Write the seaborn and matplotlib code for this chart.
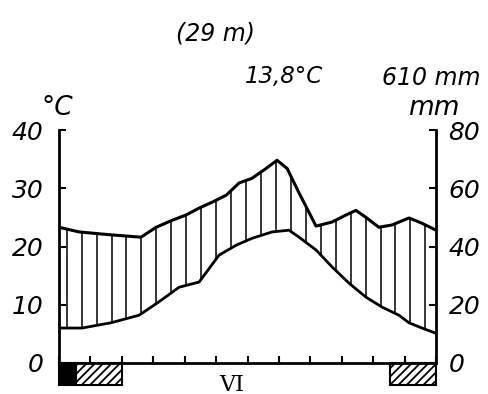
import numpy as np
import matplotlib
matplotlib.use("Agg")
import matplotlib.pyplot as plt
import seaborn as sns
from matplotlib.patches import Rectangle

# monthly curve (x in months from start of year axis)
temp_month = [0, 0.73, 1.65, 2.55, 3.18, 3.82, 4.46, 5.09, 5.63, 6.14, 6.78,
              7.32, 7.64, 8.18, 8.69, 9.23, 9.77, 10.28, 10.82, 11.14, 11.55, 12.0]
temp_c = [6.0, 6.0, 6.9, 8.2, 10.5, 13.0, 13.9, 18.5, 20.2, 21.4, 22.5,
          22.8, 21.6, 19.4, 16.5, 13.7, 11.3, 9.6, 8.2, 6.9, 6.0, 5.1]

precip_month = [0, 0.64, 1.65, 2.61, 3.09, 3.60, 4.04, 4.46, 4.87, 5.32, 5.73,
                6.14, 6.59, 6.94, 7.26, 7.64, 8.18, 8.69, 9.13, 9.45, 9.77,
                10.18, 10.60, 11.14, 11.55, 12.0]
precip_mm = [46.6, 45.0, 44.0, 43.2, 46.6, 49.0, 50.8, 53.2, 55.2, 57.6, 61.8,
             63.4, 66.8, 69.6, 66.8, 58.4, 47.0, 48.4, 50.8, 52.4, 50.0,
             46.6, 47.4, 49.8, 48.0, 45.6]

frost_black = [(0.0, 0.55)]
frost_hatched = [(0.55, 2.0), (10.55, 12.0)]

station_alt = "(29 m)"
mean_temp = "13,8°C"
annual_precip = "610 mm"

sns.set_style("white")
plt.rcParams["font.family"] = ["DejaVu Sans"]
plt.rcParams["font.style"] = "italic"
plt.rcParams["hatch.linewidth"] = 1.3
plt.rcParams["text.color"] = "black"
plt.rcParams["xtick.color"] = "black"
plt.rcParams["ytick.color"] = "black"
plt.rcParams["axes.labelcolor"] = "black"

fig = plt.figure(figsize=(4.89, 3.94), dpi=100)
ax = fig.add_axes([0.1207, 0.0122, 0.771, 0.6652])
ax.set_xlim(0, 12)
ax.set_ylim(-4.5, 40.5)

precip_half = np.array(precip_mm) / 2  # 20 mm = 10 °C scale
sns.lineplot(x=temp_month, y=temp_c, ax=ax, color="black", lw=2,
             estimator=None, sort=False)
sns.lineplot(x=precip_month, y=precip_half, ax=ax, color="black", lw=2.2,
             estimator=None, sort=False)

# vertical hatching of the humid period
xs = np.linspace(0.245, 11.66, 25)
lo = np.interp(xs, temp_month, temp_c)
hi = np.interp(xs, precip_month, precip_half)
ax.vlines(xs, lo, hi, color="black", lw=1.1)

# frost bars below the axis
bar_depth = 3.78
for a, b in frost_black:
    ax.add_patch(Rectangle((a, -bar_depth), b - a, bar_depth, facecolor="black",
                           edgecolor="black", lw=1.5, clip_on=False))
for a, b in frost_hatched:
    ax.add_patch(Rectangle((a, -bar_depth), b - a, bar_depth, facecolor="white",
                           edgecolor="black", hatch="////", lw=1.5, clip_on=False))

ax.text(5.5, -3.7, "VI", ha="center", va="center", fontsize=16,
        family="DejaVu Serif", style="normal")

for s in ["top", "right"]:
    ax.spines[s].set_visible(False)
ax.spines["bottom"].set_position(("data", 0))
ax.spines["left"].set_bounds(0, 40)
for s in ["left", "bottom"]:
    ax.spines[s].set_linewidth(2)
    ax.spines[s].set_color("black")

ax.set_xticks(range(13))
ax.tick_params(axis="x", direction="in", length=5, width=1.5, bottom=True,
               labelbottom=False, color="black")
ax.set_yticks([0, 10, 20, 30, 40])
ax.tick_params(axis="y", direction="in", length=5, width=1.5, left=True,
               labelsize=18, pad=11, color="black", labelcolor="black")
ax.set_yticks([40], minor=True)
ax.tick_params(axis="y", which="minor", direction="inout", length=12,
               width=1.5, left=True, color="black")

ax2 = ax.twinx()
ax2.set_ylim(-9, 81)
for s in ["top", "left", "bottom"]:
    ax2.spines[s].set_visible(False)
ax2.spines["right"].set_bounds(0, 80)
ax2.spines["right"].set_linewidth(2)
ax2.spines["right"].set_color("black")
ax2.set_yticks([0, 20, 40, 60, 80])
ax2.tick_params(axis="y", direction="in", length=5, width=1.5, right=True,
                labelsize=18, pad=9, color="black", labelcolor="black")
ax2.set_yticks([80], minor=True)
ax2.tick_params(axis="y", which="minor", direction="inout", length=12,
                width=1.5, right=True, color="black")

fig.text(0.4417, 0.896, station_alt, ha="center", va="baseline", fontsize=17)
fig.text(0.5808, 0.7893, mean_temp, ha="center", va="baseline", fontsize=16.5)
fig.text(0.8814, 0.7843, annual_precip, ha="center", va="baseline", fontsize=17)
fig.text(0.1166, 0.708, "°C", ha="center", va="baseline", fontsize=19)
fig.text(0.8875, 0.708, "mm", ha="center", va="baseline", fontsize=19)

fig.savefig("out.png", dpi=100)
